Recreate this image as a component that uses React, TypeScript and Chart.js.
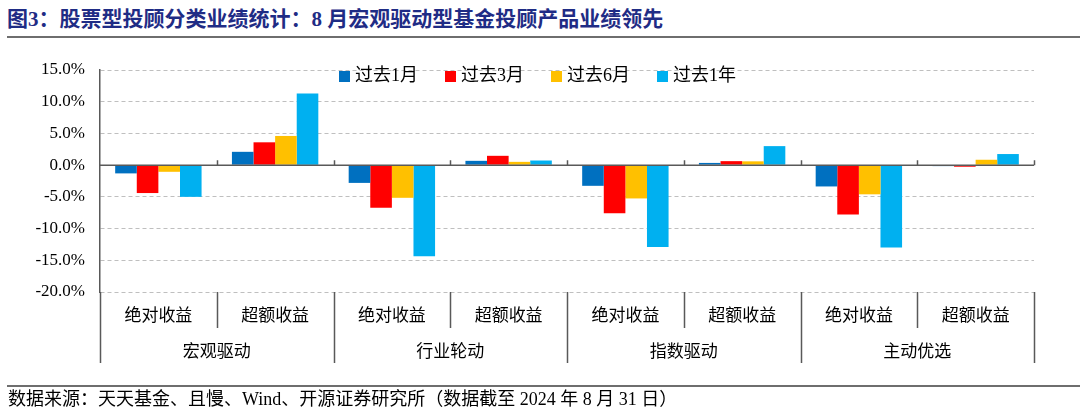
import React, { useEffect, useRef } from "react";
import { Chart, registerables } from "chart.js";

Chart.register(...registerables);

const subLabels = ["绝对收益", "超额收益", "绝对收益", "超额收益", "绝对收益", "超额收益", "绝对收益", "超额收益"];
const groupLabels = ["宏观驱动", "行业轮动", "指数驱动", "主动优选"];
const seriesNames = ["过去1月", "过去3月", "过去6月", "过去1年"];
const past1M = [-1.3, 2.1, -2.8, 0.68, -3.26, 0.35, -3.36, -0.15];
const past3M = [-4.4, 3.6, -6.7, 1.47, -7.6, 0.63, -7.8, -0.25];
const past6M = [-1.05, 4.6, -5.15, 0.52, -5.25, 0.6, -4.6, 0.85];
const past1Y = [-5.0, 11.3, -14.35, 0.73, -12.9, 3.0, -13.0, 1.75];
const yMin = -20;
const yMax = 15;
const yStep = 5;

const titleText = "图3：股票型投顾分类业绩统计：8 月宏观驱动型基金投顾产品业绩领先";
const footerText = "数据来源：天天基金、且慢、Wind、开源证券研究所（数据截至 2024 年 8 月 31 日）";

const colors = ["#0070C0", "#FF0000", "#FFC000", "#00B0F0"];
const SERIF = '"Liberation Serif", "Times New Roman", "Noto Sans CJK SC", serif';
const AXIS = "#595959";

const decorPlugin = {
  id: "decor",
  afterDatasetsDraw(chart: any) {
    const { ctx, chartArea: ca, scales } = chart;
    const x = scales.x;
    const y = scales.y;
    const n = subLabels.length;
    const cw = x.getPixelForValue(1) - x.getPixelForValue(0);
    const b0 = x.getPixelForValue(0) - cw / 2;
    const y0 = y.getPixelForValue(0);
    ctx.save();
    ctx.strokeStyle = AXIS;
    ctx.lineWidth = 1.5;
    ctx.beginPath();
    ctx.moveTo(ca.left, y0);
    ctx.lineTo(ca.right, y0);
    for (let i = 1; i <= n; i++) {
      const bx = Math.round(b0 + i * cw) + 0.5;
      ctx.moveTo(bx, y0);
      ctx.lineTo(bx, y0 - 5);
    }
    ctx.stroke();
    ctx.restore();
  },
  afterDraw(chart: any) {
    const { ctx, chartArea: ca, scales } = chart;
    const x = scales.x;
    const n = subLabels.length;
    const cw = x.getPixelForValue(1) - x.getPixelForValue(0);
    const b0 = x.getPixelForValue(0) - cw / 2;
    const bottom = ca.bottom;
    ctx.save();
    ctx.strokeStyle = AXIS;
    ctx.lineWidth = 1.5;
    ctx.beginPath();
    for (let i = 0; i <= n; i++) {
      const bx = Math.round(b0 + i * cw) + 0.5;
      const len = i % 2 === 0 ? 71 : 36;
      ctx.moveTo(bx, bottom);
      ctx.lineTo(bx, bottom + len);
    }
    ctx.stroke();
    ctx.fillStyle = "#000";
    ctx.font = `17px ${SERIF}`;
    ctx.textAlign = "center";
    ctx.textBaseline = "middle";
    for (let i = 0; i < n; i++) {
      ctx.fillText(subLabels[i], x.getPixelForValue(i), bottom + 25);
    }
    for (let g = 0; g < groupLabels.length; g++) {
      const cx = (x.getPixelForValue(2 * g) + x.getPixelForValue(2 * g + 1)) / 2;
      ctx.fillText(groupLabels[g], cx, bottom + 61);
    }
    // legend
    ctx.font = `18px ${SERIF}`;
    ctx.textAlign = "left";
    const box = 11;
    const gapText = 5;
    const gapItem = 27;
    const widths = seriesNames.map((s) => box + gapText + ctx.measureText(s).width);
    let lx = ca.left + 239;
    const ly = ca.top + 6.5;
    seriesNames.forEach((s, i) => {
      ctx.fillStyle = colors[i];
      ctx.fillRect(lx, ly - box / 2, box, box);
      ctx.fillStyle = "#000";
      ctx.fillText(s, lx + box + gapText, ly);
      lx += widths[i] + gapItem;
    });
    ctx.restore();
  },
};

export default function App() {
  const ref = useRef<HTMLCanvasElement | null>(null);
  useEffect(() => {
    if (!ref.current) return;
    const series = [past1M, past3M, past6M, past1Y];
    const chart = new Chart(ref.current, {
      type: "bar",
      data: {
        labels: subLabels,
        datasets: series.map((d, i) => ({
          label: seriesNames[i],
          data: d,
          backgroundColor: colors[i],
          borderWidth: 0,
          barPercentage: 1,
          categoryPercentage: 0.74,
        })),
      },
      options: {
        responsive: false,
        devicePixelRatio: 1,
        animation: false,
        layout: { padding: { top: 70, bottom: 128, left: 0, right: 46 } },
        plugins: { legend: { display: false }, tooltip: { enabled: false } },
        scales: {
          x: { display: false },
          y: {
            min: yMin,
            max: yMax,
            ticks: {
              stepSize: yStep,
              padding: 15,
              color: "#000",
              font: { family: SERIF, size: 17 },
              callback: (v: any) => Number(v).toFixed(1) + "%",
            },
            grid: {
              drawTicks: false,
              color: (c: any) => (c.tick && c.tick.value === 0 ? "rgba(0,0,0,0)" : "#BFBFBF"),
              lineWidth: 1,
            },
            border: { display: true, color: AXIS, width: 1.5, dash: [4, 3] },
            afterFit: (s: any) => {
              s.width = 100;
            },
          },
        },
      },
      plugins: [decorPlugin],
    } as any);
    return () => chart.destroy();
  }, []);

  return (
    <div style={{ position: "absolute", left: 0, top: 0, width: 1080, height: 420, background: "#fff" }}>
      <div
        style={{
          position: "absolute",
          left: 7,
          top: 9,
          fontFamily: SERIF,
          fontWeight: "bold",
          fontSize: 21,
          lineHeight: "21px",
          color: "#1F2C85",
          whiteSpace: "nowrap",
        }}
      >
        {titleText}
      </div>
      <div style={{ position: "absolute", left: 7, right: 0, top: 36, height: 0, borderTop: "2px solid #6E6E6E" }} />
      <canvas ref={ref} width={1080} height={420} style={{ position: "absolute", left: 0, top: 0 }} />
      <div style={{ position: "absolute", left: 7, right: 0, top: 385, height: 0, borderTop: "2px solid #6E6E6E" }} />
      <div
        style={{
          position: "absolute",
          left: 8,
          top: 390,
          fontFamily: SERIF,
          fontSize: 18,
          lineHeight: "18px",
          color: "#000",
          whiteSpace: "nowrap",
        }}
      >
        {footerText}
      </div>
    </div>
  );
}
